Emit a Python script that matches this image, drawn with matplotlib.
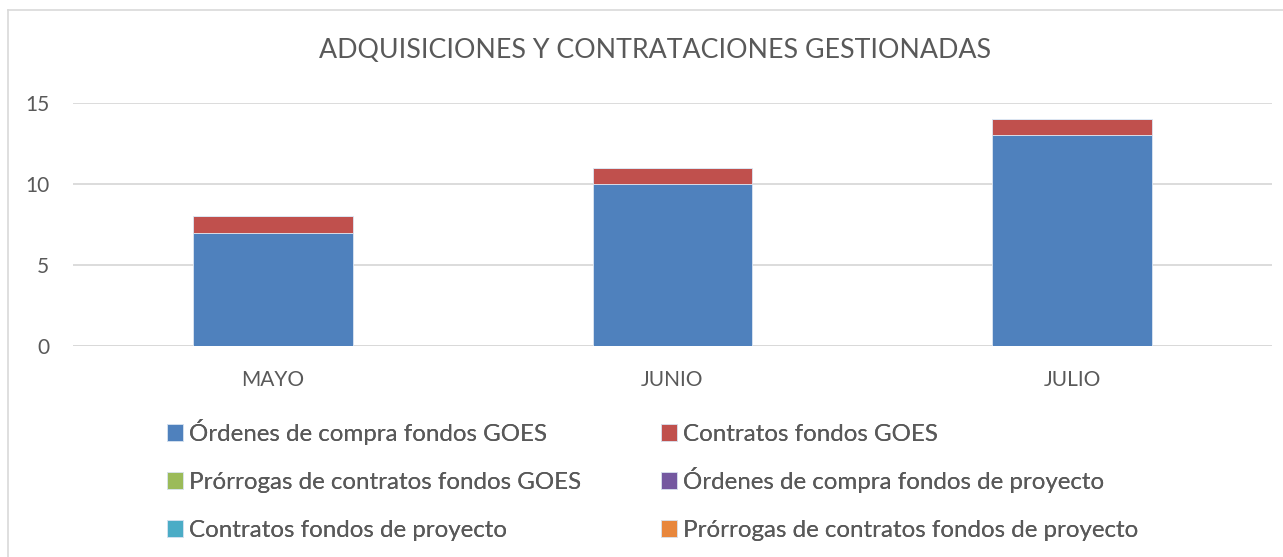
import matplotlib
matplotlib.use("Agg")
import matplotlib.pyplot as plt
import numpy as np

plt.rcParams['font.family'] = ['Lato', 'DejaVu Sans']

months = ['MAYO', 'JUNIO', 'JULIO']
series_names = [
    'Órdenes de compra fondos GOES',
    'Contratos fondos GOES',
    'Prórrogas de contratos fondos GOES',
    'Órdenes de compra fondos de proyecto',
    'Contratos fondos de proyecto',
    'Prórrogas de contratos fondos de proyecto',
]
ordenes_goes = [7, 10, 13]
contratos_goes = [1, 1, 1]
prorrogas_goes = [0, 0, 0]
ordenes_proy = [0, 0, 0]
contratos_proy = [0, 0, 0]
prorrogas_proy = [0, 0, 0]
series = [ordenes_goes, contratos_goes, prorrogas_goes,
          ordenes_proy, contratos_proy, prorrogas_proy]
colors = ['#4F81BD', '#C0504D', '#9BBB59', '#7458A0', '#4BACC6', '#E8873D']

text_color = '#595959'
grid_color = '#D9D9D9'

W, H = 1283, 557
fig = plt.figure(figsize=(W / 100, H / 100), dpi=100)
# chart border (only left / top visible in the reference)
fig.add_artist(plt.Line2D([8 / W, 8 / W], [0, 1 - 10 / H],
                          transform=fig.transFigure, color=grid_color, lw=1.2))
fig.add_artist(plt.Line2D([8 / W, 1], [1 - 10 / H, 1 - 10 / H],
                          transform=fig.transFigure, color=grid_color, lw=1.2))

ax = fig.add_axes([73 / W, 211 / H, 1199 / W, 243 / H])
x = np.arange(len(months))
bottom = np.zeros(len(months))
handles = []
for name, vals, c in zip(series_names, series, colors):
    b = ax.bar(x, vals, width=0.4, bottom=bottom, color=c, label=name,
               edgecolor='#DCE6F2', linewidth=0.6, zorder=3)
    handles.append(b)
    bottom += np.array(vals)

ax.set_xlim(-0.5, 2.5)
ax.set_ylim(0, 15)
ax.set_yticks([0, 5, 10, 15])
ax.set_xticks(x)
ax.set_xticklabels(months)
ax.tick_params(axis='both', length=0, colors=text_color, labelsize=15)
ax.tick_params(axis='x', pad=17)
ax.tick_params(axis='y', pad=17)
ax.grid(axis='y', color=grid_color, lw=1.3, zorder=0)
for s in ax.spines.values():
    s.set_visible(False)
ax.axhline(0, color=grid_color, lw=1.3, zorder=1)

fig.text(655 / W, 1 - 50 / H, 'ADQUISICIONES Y CONTRATACIONES GESTIONADAS',
         ha='center', va='center', fontsize=19.3, color=text_color)

# legend: 2 columns x 3 rows, one entry per box anchored at the bottom
# so that baselines line up across columns
col_x = [167, 661]
row_y = [432, 480, 528]
for i, (h, name) in enumerate(zip(handles, series_names)):
    r, c = divmod(i, 2)
    leg = fig.legend([h], [name], loc='lower left',
                     bbox_to_anchor=(col_x[c] / W, 1 - (row_y[r] + 13) / H),
                     frameon=False, fontsize=17.4, labelcolor=text_color,
                     handlelength=0.65, handleheight=0.65, handletextpad=0.28,
                     borderaxespad=0, borderpad=0)
    fig.add_artist(leg)

fig.savefig('out.png', dpi=100, facecolor='white')
